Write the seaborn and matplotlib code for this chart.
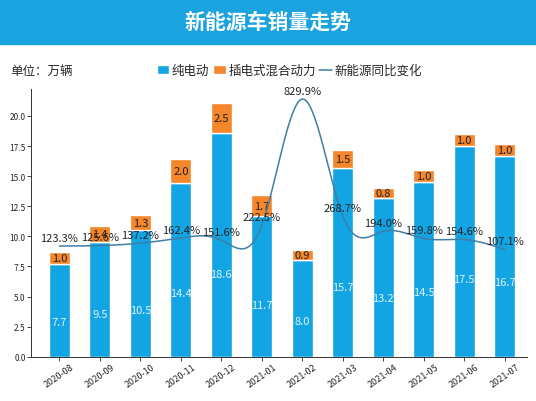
import numpy as np
import pandas as pd
import matplotlib
matplotlib.use("Agg")
import matplotlib.pyplot as plt
import seaborn as sns

months = ["2020-08","2020-09","2020-10","2020-11","2020-12","2021-01","2021-02","2021-03","2021-04","2021-05","2021-06","2021-07"]
bev = [7.7,9.5,10.5,14.4,18.6,11.7,8.0,15.7,13.2,14.5,17.5,16.7]
phev = [1.0,1.4,1.3,2.0,2.5,1.7,0.9,1.5,0.8,1.0,1.0,1.0]
yoy = [123.3,125.6,137.2,162.4,151.6,222.5,829.9,268.7,194.0,159.8,154.6,107.1]

sns.set_style("white")
plt.rcParams['font.family'] = ['Noto Sans CJK SC', 'DejaVu Sans']

BLUE = "#12a4e3"; ORANGE = "#f5862a"; LINE = "#3f7ea6"

fig = plt.figure(figsize=(5.36, 4.02), dpi=100)
fig.patch.set_facecolor("white")
fig.patches.append(plt.Rectangle((0, 0.888), 1, 0.112, transform=fig.transFigure, color="#1aa3df", zorder=0))
fig.text(0.5, 0.944, "新能源车销量走势", ha="center", va="center", color="white", fontsize=15, fontweight="bold")
fig.text(0.02, 0.822, "单位：万辆", fontsize=9, va="center")

ax = fig.add_axes([0.058, 0.11, 0.925, 0.665])
df = pd.DataFrame({"month": months, "bev": bev, "phev": phev})
x = np.arange(len(months))
sns.barplot(data=df, x="month", y="bev", color=BLUE, width=0.52, ax=ax, saturation=1, label="纯电动")
ax.bar(x, phev, bottom=bev, color=ORANGE, width=0.52, label="插电式混合动力")
if ax.get_legend() is not None:
    ax.get_legend().remove()
for i in range(len(months)):
    ax.text(x[i], bev[i] * 0.37, f"{bev[i]:.1f}", ha="center", va="center", color="#dff3fb", fontsize=8)
    ax.text(x[i], bev[i] + phev[i] / 2, f"{phev[i]:.1f}", ha="center", va="center", color="#222", fontsize=8)
ax.set_ylim(0, 22.2)
ax.set_xlim(-0.7, 11.55)
ax.set_yticks(np.arange(0, 20.1, 2.5))
ax.set_yticklabels([f"{v:.1f}" for v in np.arange(0, 20.1, 2.5)], fontsize=6)
ax.set_xticks(x)
ax.set_xticklabels(months, rotation=35, fontsize=6.5)
ax.set_xlabel(""); ax.set_ylabel("")
ax.tick_params(axis="both", length=3, width=0.6, pad=1, left=True, bottom=True)
for s in ["top", "right"]:
    ax.spines[s].set_visible(False)
for s in ["left", "bottom"]:
    ax.spines[s].set_color("#333"); ax.spines[s].set_linewidth(0.7)

# natural cubic spline through yoy points
def spline(xs, ys, n=400):
    xs = np.asarray(xs, float); ys = np.asarray(ys, float)
    N = len(xs); h = np.diff(xs)
    A = np.zeros((N, N)); b = np.zeros(N)
    A[0, 0] = A[-1, -1] = 1
    for i in range(1, N - 1):
        A[i, i - 1] = h[i - 1]; A[i, i] = 2 * (h[i - 1] + h[i]); A[i, i + 1] = h[i]
        b[i] = 3 * ((ys[i + 1] - ys[i]) / h[i] - (ys[i] - ys[i - 1]) / h[i - 1])
    c = np.linalg.solve(A, b)
    xx = np.linspace(xs[0], xs[-1], n); yy = np.empty(n)
    for k, t in enumerate(xx):
        i = min(np.searchsorted(xs, t, side="right") - 1, N - 2)
        d = t - xs[i]
        bb = (ys[i + 1] - ys[i]) / h[i] - h[i] * (2 * c[i] + c[i + 1]) / 3
        dd = (c[i + 1] - c[i]) / (3 * h[i])
        yy[k] = ys[i] + bb * d + c[i] * d ** 2 + dd * d ** 3
    return xx, yy

ax2 = ax.twinx()
xx, yy = spline(x, yoy)
sns.lineplot(x=xx, y=yy, ax=ax2, color=LINE, linewidth=1.1, label="新能源同比变化", legend=False)
ax2.set_ylim(-409, 876)
ax2.set_xlim(ax.get_xlim())
ax2.axis("off")
for i in range(len(months)):
    ax2.text(x[i], yoy[i] + 15, f"{yoy[i]:.1f}%", ha="center", va="bottom", color="#222", fontsize=8)

h1, l1 = ax.get_legend_handles_labels()
h2, l2 = ax2.get_legend_handles_labels()
fig.legend(h1 + h2, l1 + l2, loc="center", bbox_to_anchor=(0.54, 0.822), ncol=3, frameon=False,
           fontsize=9, handlelength=1.0, handletextpad=0.2, columnspacing=0.3)

fig.savefig("out.png", dpi=100)
